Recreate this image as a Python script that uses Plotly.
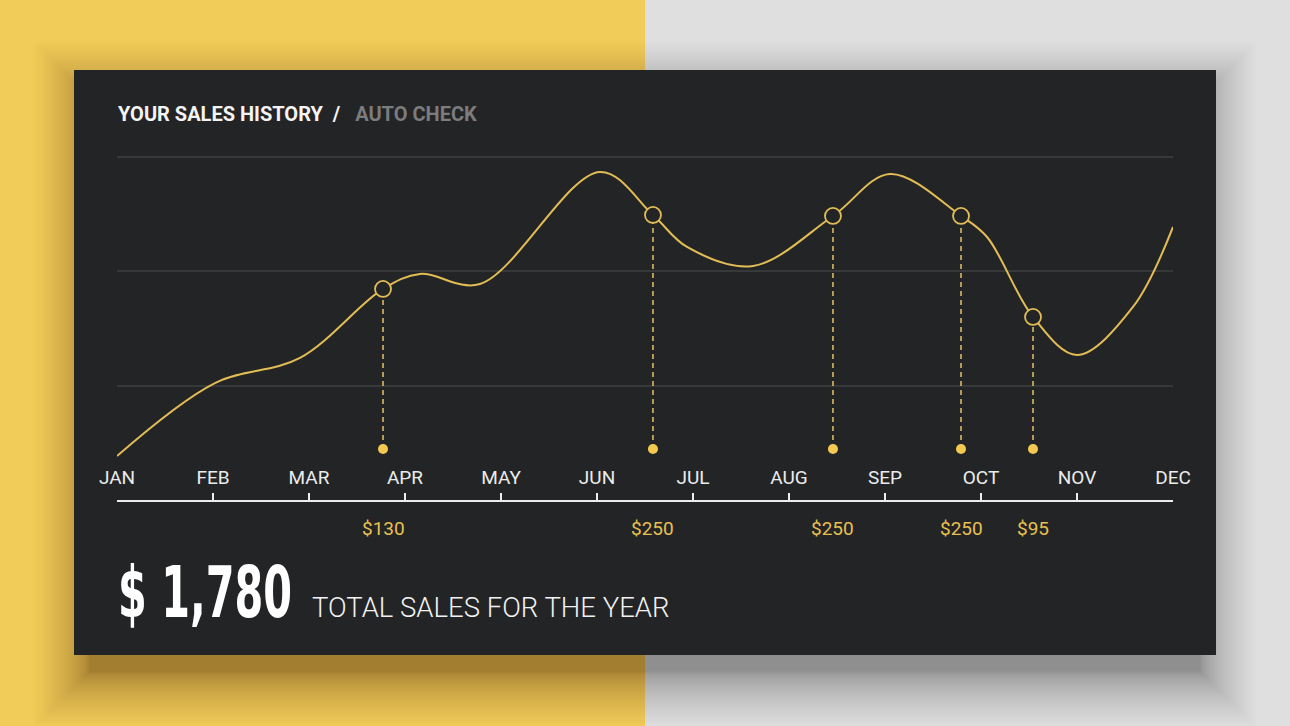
import plotly.graph_objects as go

W, H = 1290, 726

# ---------------- data ----------------
months = ["JAN", "FEB", "MAR", "APR", "MAY", "JUN", "JUL", "AUG", "SEP", "OCT", "NOV", "DEC"]
month_pos = list(range(12))

curve_x = [0, 1.02, 1.906, 2.771, 3.156, 3.781, 5.031, 5.583, 5.938, 6.625,
           7.458, 8.052, 8.792, 9.063, 9.542, 10.0, 10.583, 11.0]
curve_y = [38.5, 102.3, 124.2, 184.6, 197.7, 188.9, 286.9, 249.3, 221.3, 204.7,
           248.4, 285.1, 248.4, 230.0, 160.1, 126.8, 168.8, 238.8]

sale_x = [2.771, 5.583, 7.458, 8.792, 9.542]
sale_y = [184.6, 249.3, 248.4, 248.4, 160.1]
sale_labels = ["$130", "$250", "$250", "$250", "$95"]
dot_level = 44.6

grid_vals = [100, 200, 300]
total_text = "$ 1,780"
total_caption = "TOTAL SALES FOR THE YEAR"

# ---------------- style ----------------
YELLOW_BG = "#F2CC58"
GRAY_BG = "#DFDFDF"
CARD = "#232426"
GRID = "#37383A"
LINE = "#E2BD55"
DASH = "#C9A85C"
DOT = "#F4C951"
TEXT = "#ECECEC"
MUTED = "#7B7C7E"


def px_x(p):
    return p / W


def px_y(p):
    return 1 - p / H


fig = go.Figure()

fig.add_trace(go.Scatter(
    x=curve_x, y=curve_y, mode="lines",
    line=dict(color=LINE, width=2, shape="spline", smoothing=1.0),
    hoverinfo="skip", showlegend=False))

for sx, sy in zip(sale_x, sale_y):
    fig.add_trace(go.Scatter(
        x=[sx, sx], y=[dot_level, sy], mode="lines",
        line=dict(color=DASH, width=1.8, dash="5px,4px"),
        hoverinfo="skip", showlegend=False))

fig.add_trace(go.Scatter(
    x=sale_x, y=[dot_level] * len(sale_x), mode="markers",
    marker=dict(color=DOT, size=10, line=dict(width=0)),
    hoverinfo="skip", showlegend=False))

fig.add_trace(go.Scatter(
    x=sale_x, y=sale_y, mode="markers",
    marker=dict(color=CARD, size=16, line=dict(color=LINE, width=1.8)),
    hoverinfo="skip", showlegend=False))

shapes = []
# yellow left half
shapes.append(dict(type="rect", xref="paper", yref="paper", x0=0, x1=px_x(645), y0=0, y1=1,
                   fillcolor=YELLOW_BG, line=dict(width=0), layer="below"))
# soft drop shadow (layered translucent rects)
cx0, cx1, cy0, cy1 = 74, 1216, 70, 655
sb0, sb1, st, sbm = cx0 + 10, cx1 - 10, cy0 + 22, cy1 + 22
N = 40
for k in range(1, N + 1):
    g = -6 + 56 * (k / N) ** 1.6
    shapes.append(dict(type="rect", xref="paper", yref="paper",
                       x0=px_x(sb0 - g), x1=px_x(sb1 + g),
                       y0=px_y(sbm + g), y1=px_y(st - g),
                       fillcolor="rgba(0,0,0,0.0095)", line=dict(width=0), layer="below"))
# card
shapes.append(dict(type="rect", xref="paper", yref="paper",
                   x0=px_x(cx0), x1=px_x(cx1), y0=px_y(cy1), y1=px_y(cy0),
                   fillcolor=CARD, line=dict(width=0), layer="below"))

annotations = []
annotations.append(dict(
    xref="paper", yref="paper", x=px_x(116), y=px_y(114), xanchor="left", yanchor="middle",
    showarrow=False,
    text=("<b>YOUR SALES HISTORY</b>\u00a0\u00a0<b>/</b>\u00a0\u00a0\u00a0"
          "<span style='color:%s'><b>AUTO CHECK</b></span>" % MUTED),
    font=dict(family="Roboto", size=20, color="#F4F4F4")))
for sx, lab in zip(sale_x, sale_labels):
    annotations.append(dict(
        xref="x", yref="paper", x=sx, y=px_y(528), xanchor="center", yanchor="middle",
        showarrow=False, text=lab, font=dict(family="Roboto", size=19, color="#E8C050")))
annotations.append(dict(
    xref="paper", yref="paper", x=px_x(116), y=px_y(592), xanchor="left", yanchor="middle",
    showarrow=False, text=total_text,
    font=dict(family="DejaVu Sans Condensed, DejaVu Sans", size=72, color="#FFFFFF", weight="bold")))
annotations.append(dict(
    xref="paper", yref="paper", x=px_x(310), y=px_y(607), xanchor="left", yanchor="middle",
    showarrow=False, text=total_caption,
    font=dict(family="Roboto", size=27.5, color="#F2F2F2", weight=300)))

fig.update_layout(
    width=W, height=H,
    margin=dict(l=0, r=0, t=0, b=0, autoexpand=False),
    paper_bgcolor=GRAY_BG, plot_bgcolor="rgba(0,0,0,0)",
    shapes=shapes, annotations=annotations, showlegend=False,
    xaxis=dict(
        domain=[px_x(117), px_x(1173)], range=[0, 11],
        tickmode="array", tickvals=month_pos, ticktext=months,
        showgrid=False, zeroline=False,
        showline=True, linecolor=TEXT, linewidth=2,
        ticks="inside", ticklen=7, tickwidth=2, tickcolor=TEXT,
        ticklabelposition="inside", ticklabelstandoff=6, ticklabeloverflow="allow",
        tickfont=dict(family="Roboto", size=19, color=TEXT),
        automargin=False, fixedrange=True),
    yaxis=dict(
        domain=[px_y(500), px_y(134.1)], range=[0, 320],
        tickmode="array", tickvals=grid_vals, showticklabels=False,
        showgrid=True, gridcolor=GRID, gridwidth=2, zeroline=False, showline=False,
        automargin=False, fixedrange=True),
)

post = """
document.body.style.margin = '0';
document.documentElement.style.overflow = 'hidden';
var gd = document.getElementById('{plot_id}');
function squeeze() {
  gd.querySelectorAll('g.annotation-text-g text').forEach(function (t) {
    if (t.textContent.indexOf('1,780') >= 0) {
      t.removeAttribute('transform');
      var b = t.getBBox();
      if (b.width > 0) {
        var s = 174 / b.width;
        t.setAttribute('transform', 'translate(' + b.x + ',0) scale(' + s + ',1) translate(' + (-b.x) + ',0)');
      }
    }
  });
}
squeeze();
if (document.fonts && document.fonts.ready) { document.fonts.ready.then(squeeze); }
"""

fig.write_html("out.html", config={"displayModeBar": False}, post_script=post)
